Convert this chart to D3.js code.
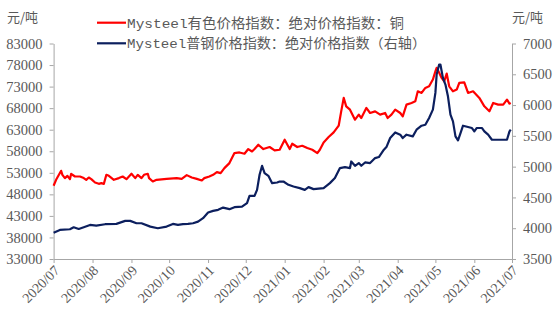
<!DOCTYPE html>
<html>
<head>
<meta charset="utf-8">
<script src="https://cdn.jsdelivr.net/npm/d3@7"></script>
<style>
  html, body { margin: 0; padding: 0; background: #fff; }
  svg { display: block; }
</style>
</head>
<body>
<svg id="chart" width="558" height="329"></svg>
<script>
// ---- data ----
const seriesNames = ["Mysteel有色价格指数：绝对价格指数：铜", "Mysteel普钢价格指数：绝对价格指数（右轴）"];
const unitLabel = "元/吨";
const leftTicks = [33000, 38000, 43000, 48000, 53000, 58000, 63000, 68000, 73000, 78000, 83000];
const rightTicks = [3500, 4000, 4500, 5000, 5500, 6000, 6500, 7000];
const monthTicks = ["2020-07-01","2020-08-01","2020-09-01","2020-10-01","2020-11-01","2020-12-01","2021-01-01","2021-02-01","2021-03-01","2021-04-01","2021-05-01","2021-06-01","2021-07-01"];

const copper = [
  ["2020-07-01",50000],["2020-07-03",51370],["2020-07-07",53465],["2020-07-08",52535],["2020-07-10",51770],
  ["2020-07-12",52300],["2020-07-14",51530],["2020-07-15",52770],["2020-07-18",52140],["2020-07-22",52140],
  ["2020-07-25",51770],["2020-07-27",51370],["2020-07-29",51900],["2020-07-31",51530],["2020-08-03",50740],
  ["2020-08-06",50440],["2020-08-08",50600],["2020-08-10",50440],["2020-08-12",52535],["2020-08-14",52300],
  ["2020-08-18",51370],["2020-08-22",51770],["2020-08-25",52140],["2020-08-28",51530],["2020-09-01",52770],
  ["2020-09-04",51770],["2020-09-06",52535],["2020-09-09",51770],["2020-09-11",52535],["2020-09-14",52770],
  ["2020-09-15",51770],["2020-09-18",50980],["2020-09-21",51370],["2020-09-29",51600],["2020-10-07",51770],
  ["2020-10-11",51600],["2020-10-15",52460],["2020-10-19",51900],["2020-10-23",51600],["2020-10-27",51210],
  ["2020-10-29",51770],["2020-11-02",52140],["2020-11-05",52535],["2020-11-08",53160],["2020-11-11",52930],
  ["2020-11-14",54090],["2020-11-18",55250],["2020-11-22",57580],["2020-11-26",57720],["2020-11-30",57420],
  ["2020-12-03",58510],["2020-12-06",57950],["2020-12-08",58510],["2020-12-11",59510],["2020-12-15",58510],
  ["2020-12-20",58980],["2020-12-24",58190],["2020-12-28",58350],["2021-01-01",60670],["2021-01-05",58510],
  ["2021-01-07",59740],["2021-01-11",58980],["2021-01-15",59280],["2021-01-19",58740],["2021-01-23",58350],
  ["2021-01-27",57580],["2021-01-29",58350],["2021-02-01",60050],["2021-02-05",61300],["2021-02-09",62370],
  ["2021-02-13",63930],["2021-02-15",67260],["2021-02-17",70370],["2021-02-19",68420],["2021-02-22",67650],
  ["2021-02-24",66490],["2021-02-26",65330],["2021-03-01",66490],["2021-03-03",65720],["2021-03-07",68050],
  ["2021-03-10",66880],["2021-03-14",67260],["2021-03-18",66490],["2021-03-22",66880],["2021-03-24",65720],
  ["2021-03-27",66490],["2021-03-30",67650],["2021-04-03",66880],["2021-04-05",66090],["2021-04-08",68810],
  ["2021-04-12",69200],["2021-04-15",69580],["2021-04-17",71910],["2021-04-20",71530],["2021-04-23",72700],
  ["2021-04-26",73070],["2021-04-29",74630],["2021-05-01",76560],["2021-05-02",77350],["2021-05-04",76190],
  ["2021-05-06",75020],["2021-05-08",74230],["2021-05-10",76020],["2021-05-12",73070],["2021-05-15",71910],
  ["2021-05-18",72300],["2021-05-20",73860],["2021-05-24",74000],["2021-05-27",71530],["2021-05-31",71910],
  ["2021-06-05",70370],["2021-06-09",68420],["2021-06-13",67260],["2021-06-16",69200],["2021-06-20",68810],
  ["2021-06-24",68810],["2021-06-27",69980],["2021-06-29",69050],["2021-06-30",69200]
];

const steel = [
  ["2020-07-01",3928],["2020-07-06",3972],["2020-07-14",3983],["2020-07-17",4016],["2020-07-21",3988],
  ["2020-07-25",4016],["2020-07-30",4053],["2020-08-04",4042],["2020-08-11",4065],["2020-08-20",4070],
  ["2020-08-27",4119],["2020-08-31",4119],["2020-09-05",4081],["2020-09-09",4081],["2020-09-16",4026],
  ["2020-09-22",4000],["2020-09-29",4026],["2020-10-04",4070],["2020-10-08",4053],["2020-10-12",4065],
  ["2020-10-16",4070],["2020-10-20",4081],["2020-10-24",4107],["2020-10-28",4163],["2020-11-01",4254],
  ["2020-11-05",4281],["2020-11-09",4298],["2020-11-13",4335],["2020-11-18",4309],["2020-11-22",4342],
  ["2020-11-28",4351],["2020-12-02",4407],["2020-12-04",4526],["2020-12-08",4526],["2020-12-10",4623],
  ["2020-12-12",4868],["2020-12-14",5014],["2020-12-16",4895],["2020-12-19",4851],["2020-12-22",4732],
  ["2020-12-26",4742],["2020-12-28",4758],["2020-12-31",4758],["2021-01-04",4705],["2021-01-08",4677],
  ["2021-01-13",4651],["2021-01-17",4623],["2021-01-20",4667],["2021-01-24",4635],["2021-02-01",4651],
  ["2021-02-06",4732],["2021-02-10",4814],["2021-02-14",4977],["2021-02-18",4993],["2021-02-22",4977],
  ["2021-02-23",5084],["2021-02-26",5014],["2021-03-01",5058],["2021-03-03",5014],["2021-03-06",5068],
  ["2021-03-10",5058],["2021-03-14",5139],["2021-03-17",5156],["2021-03-21",5275],["2021-03-23",5318],
  ["2021-03-26",5465],["2021-03-30",5556],["2021-04-03",5519],["2021-04-05",5465],["2021-04-08",5519],
  ["2021-04-13",5491],["2021-04-16",5600],["2021-04-20",5665],["2021-04-23",5681],["2021-04-26",5791],
  ["2021-04-29",5926],["2021-05-01",6198],["2021-05-02",6495],["2021-05-04",6658],["2021-05-05",6658],
  ["2021-05-07",6442],["2021-05-09",6333],["2021-05-11",6142],["2021-05-13",5844],["2021-05-15",5735],
  ["2021-05-17",5491],["2021-05-19",5426],["2021-05-21",5546],["2021-05-23",5665],["2021-05-27",5644],
  ["2021-05-30",5628],["2021-06-01",5572],["2021-06-03",5628],["2021-06-07",5628],["2021-06-09",5572],
  ["2021-06-12",5519],["2021-06-15",5437],["2021-06-21",5437],["2021-06-27",5437],["2021-06-29",5572],
  ["2021-06-30",5600]
];

// ---- drawing ----
const parse = d3.utcParse("%Y-%m-%d");
const fmtTick = d3.utcFormat("%Y/%m");
const svg = d3.select("#chart");

const plotL = 53.6, plotR = 512, plotT = 43.5, plotB = 259;
const x = d3.scaleUtc().domain([parse(monthTicks[0]), parse(monthTicks[monthTicks.length-1])]).range([plotL, plotR]);
const yL = d3.scaleLinear().domain([33000, 83000]).range([plotB, plotT]);
const yR = d3.scaleLinear().domain([3500, 7000]).range([plotB, plotT]);

const axisColor = "#a6a6a6";
const textColor = "#595959";
const numFont = "'Liberation Serif', 'Times New Roman', serif";
const cjkFont = "'Liberation Mono', 'Noto Sans CJK SC', sans-serif";

function styleAxis(g) {
  g.selectAll(".domain").attr("stroke", axisColor).attr("stroke-width", 1);
  g.selectAll(".tick line").attr("stroke", axisColor).attr("stroke-width", 1);
  g.selectAll(".tick text").attr("fill", textColor).style("font-family", numFont).style("font-size", "14.5px");
}

// left axis
const gL = svg.append("g").attr("transform", `translate(${plotL},0)`)
  .call(d3.axisLeft(yL).tickValues(leftTicks).tickSize(4).tickSizeOuter(0).tickPadding(7).tickFormat(d3.format("d")));
styleAxis(gL);

// right axis
const gR = svg.append("g").attr("transform", `translate(${plotR},0)`)
  .call(d3.axisRight(yR).tickValues(rightTicks).tickSize(4).tickSizeOuter(0).tickPadding(7).tickFormat(d3.format("d")));
styleAxis(gR);

// bottom axis
const gX = svg.append("g").attr("transform", `translate(0,${plotB})`)
  .call(d3.axisBottom(x).tickValues(monthTicks.map(parse)).tickSize(4).tickSizeOuter(0).tickFormat(fmtTick));
styleAxis(gX);
gX.selectAll(".tick text")
  .style("font-size", "14px")
  .attr("text-anchor", "end")
  .attr("dy", null)
  .attr("y", 0)
  .attr("transform", "translate(4,10) rotate(-45)")
  .attr("dominant-baseline", "middle");

// lines
const lineL = d3.line().x(d => x(parse(d[0]))).y(d => yL(d[1]));
const lineR = d3.line().x(d => x(parse(d[0]))).y(d => yR(d[1]));

svg.append("path").datum(copper).attr("d", lineL)
  .attr("fill", "none").attr("stroke", "#ff0000").attr("stroke-width", 2.2).attr("stroke-linejoin", "round");
svg.append("path").datum(steel).attr("d", lineR)
  .attr("fill", "none").attr("stroke", "#0c1f5e").attr("stroke-width", 2.2).attr("stroke-linejoin", "round");

// unit labels
svg.append("text").attr("x", 7).attr("y", 22).text(unitLabel)
  .attr("fill", textColor).style("font-family", "'Noto Sans CJK SC', sans-serif").style("font-size", "13px");
svg.append("text").attr("x", 512).attr("y", 22).text(unitLabel)
  .attr("fill", textColor).style("font-family", "'Noto Sans CJK SC', sans-serif").style("font-size", "13px");

// legend
const legend = [
  {name: seriesNames[0], color: "#ff0000", y: 22.7, w: 277},
  {name: seriesNames[1], color: "#0c1f5e", y: 43.3, w: 299}
];
const lg = svg.append("g");
legend.forEach(l => {
  lg.append("line").attr("x1", 97).attr("x2", 126).attr("y1", l.y).attr("y2", l.y)
    .attr("stroke", l.color).attr("stroke-width", 2.2);
  lg.append("text").attr("x", 127).attr("y", l.y).attr("dy", "0.36em").text(l.name)
    .attr("fill", textColor).style("font-family", cjkFont).style("font-size", "13.5px")
    .attr("textLength", l.w).attr("lengthAdjust", "spacingAndGlyphs");
});
</script>
</body>
</html>
